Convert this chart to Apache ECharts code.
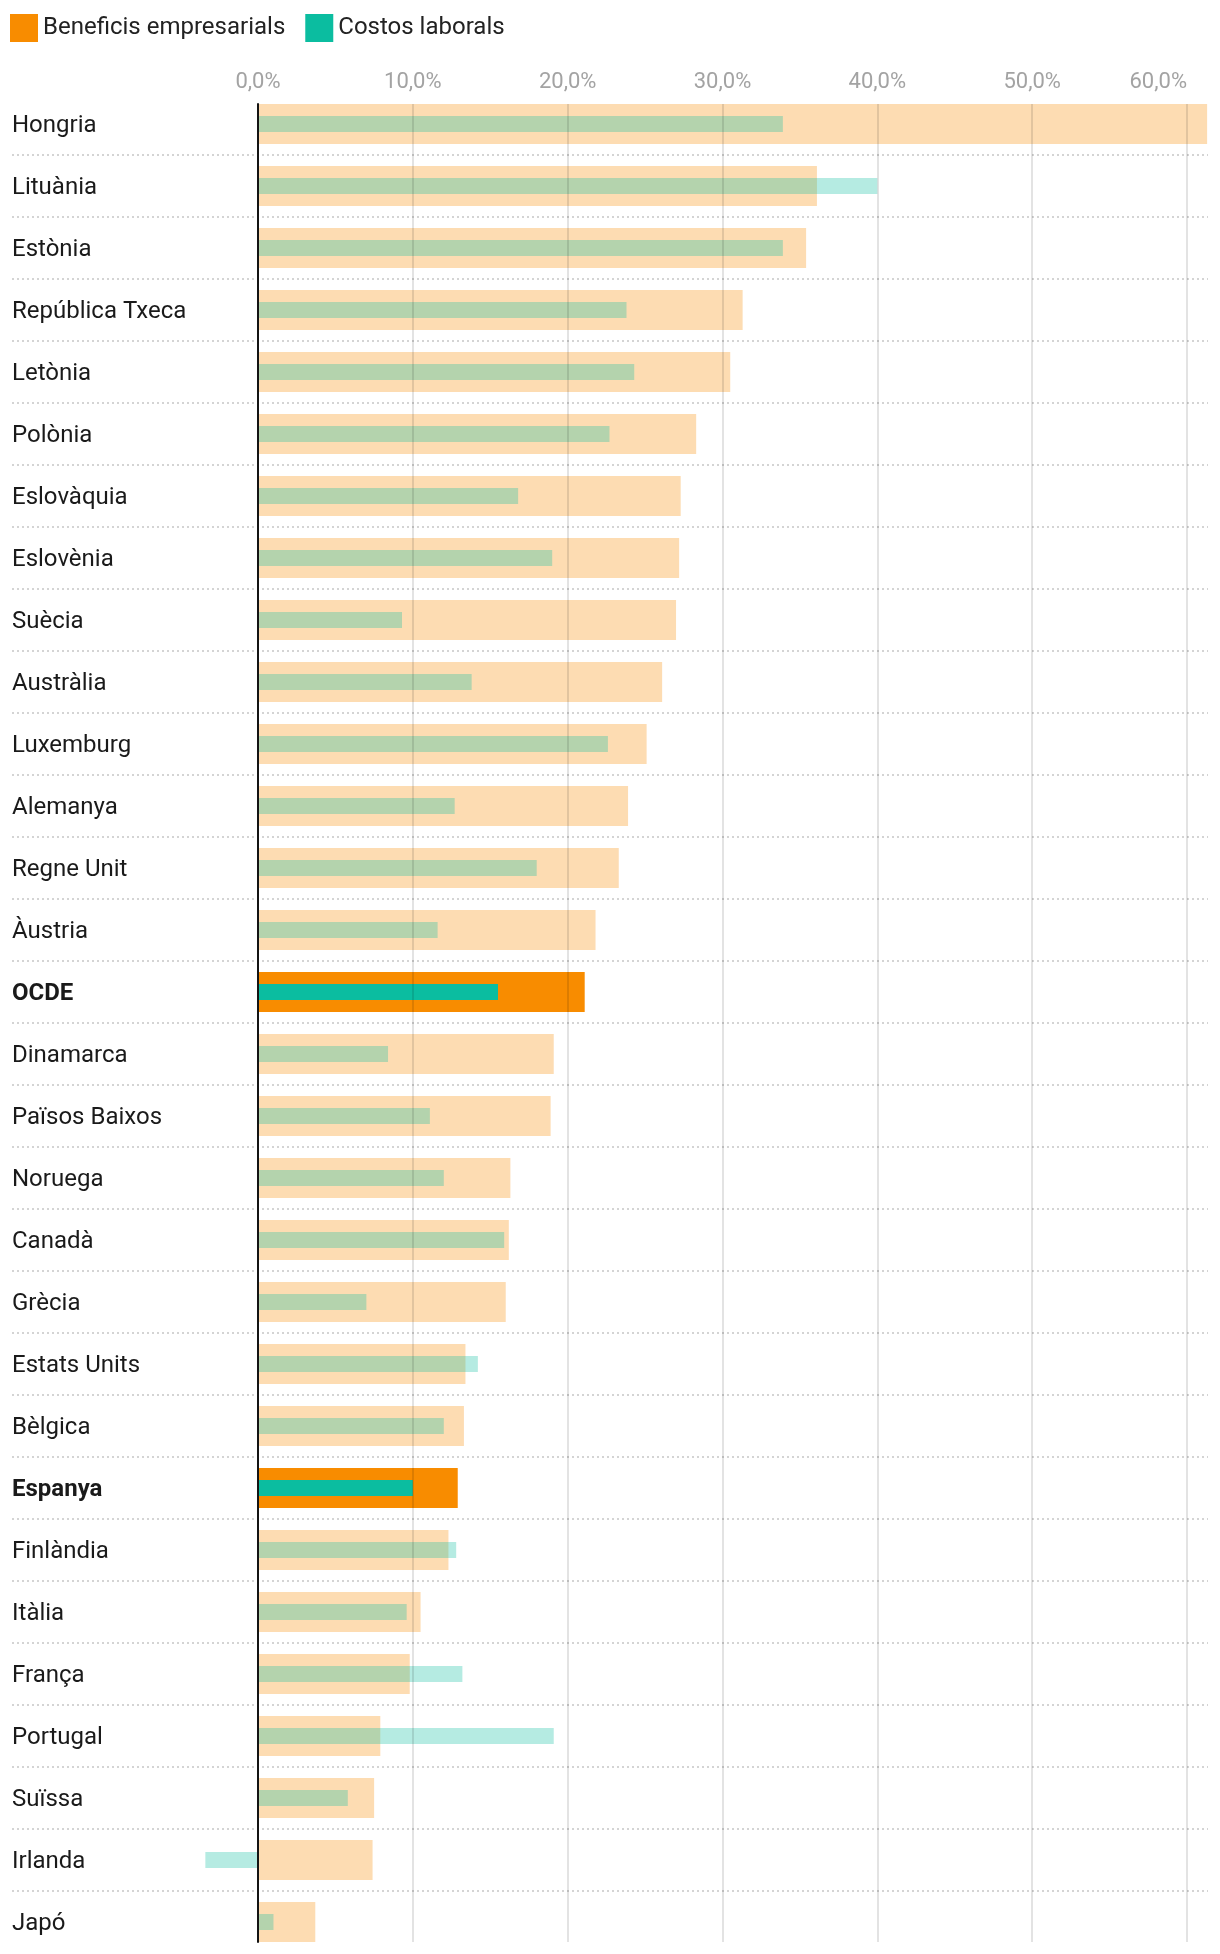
<!DOCTYPE html>
<html>
<head>
<meta charset="utf-8">
<script src="https://cdn.jsdelivr.net/npm/echarts@6/dist/echarts.min.js"></script>
<style>
html,body{margin:0;padding:0;background:#fff;}
#chart{width:1220px;height:1954px;}
</style>
</head>
<body>
<div id="chart"></div>
<script>
// ---- data ----
const countries = ['Hongria','Lituània','Estònia','República Txeca','Letònia','Polònia','Eslovàquia','Eslovènia','Suècia','Austràlia','Luxemburg','Alemanya','Regne Unit','Àustria','OCDE','Dinamarca','Països Baixos','Noruega','Canadà','Grècia','Estats Units','Bèlgica','Espanya','Finlàndia','Itàlia','França','Portugal','Suïssa','Irlanda','Japó'];
const benefits = [61.3,36.1,35.4,31.3,30.5,28.3,27.3,27.2,27.0,26.1,25.1,23.9,23.3,21.8,21.1,19.1,18.9,16.3,16.2,16.0,13.4,13.3,12.9,12.3,10.5,9.8,7.9,7.5,7.4,3.7];
const costs = [33.9,40.0,33.9,23.8,24.3,22.7,16.8,19.0,9.3,13.8,22.6,12.7,18.0,11.6,15.5,8.4,11.1,12.0,15.9,7.0,14.2,12.0,10.0,12.8,9.6,13.2,19.1,5.8,-3.4,1.0];
const highlighted = ['OCDE','Espanya'];
const seriesNames = ['Beneficis empresarials','Costos laborals'];
const tickStep = 10;
const tickMax = 60;

// ---- layout ----
const W = 1220;
const labelLeft = 12, zeroX = 258, rightPad = 12;
const tick60X = 1187;
const plotTop = 93, plotBottom = 1;
const tickTop = 104, tickBottom = 12;
const pxPerUnit = (tick60X - zeroX) / tickMax;
const xMinData = -(zeroX - labelLeft) / pxPerUnit;
const xMaxData = (W - rightPad - zeroX) / pxPerUnit;

const ORANGE = '#F88C00', TEAL = '#0BBDA0';
const fade = 0.3;

function items(vals, color) {
  return vals.map((v, i) => ({
    value: v,
    itemStyle: { color: color, opacity: highlighted.includes(countries[i]) ? 1 : fade }
  }));
}

const chart = echarts.init(document.getElementById('chart'), null, {renderer: 'canvas'});
chart.setOption({
  animation: false,
  textStyle: { fontFamily: 'Roboto' },
  legend: {
    left: 10, top: 14, padding: 0,
    itemWidth: 28, itemHeight: 28, itemGap: 20,
    icon: 'rect',
    textStyle: { fontSize: 24, color: '#222', fontFamily: 'Roboto' },
    data: seriesNames
  },
  grid: [
    { left: zeroX, right: W - tick60X, top: tickTop, bottom: tickBottom, containLabel: false },
    { left: labelLeft, right: rightPad, top: plotTop, bottom: plotBottom, containLabel: false }
  ],
  xAxis: [
    {
      gridIndex: 0, type: 'value', min: 0, max: tickMax, interval: tickStep,
      position: 'top', z: 5,
      axisLine: { show: false }, axisTick: { show: false },
      axisLabel: {
        margin: 11, alignMaxLabel: 'right',
        fontSize: 22, color: '#a3a3a3', fontFamily: 'Roboto',
        formatter: v => v.toFixed(1).replace('.', ',') + '%'
      },
      splitLine: { show: true, showMinLine: false, showMaxLine: true,
        lineStyle: { color: 'rgba(0,0,0,0.11)', width: 2 } }
    },
    {
      gridIndex: 1, type: 'value', min: xMinData, max: xMaxData,
      show: false
    }
  ],
  yAxis: [
    {
      gridIndex: 0, type: 'value', min: 0, max: 1, z: 6,
      axisLine: { show: true, lineStyle: { color: '#141414', width: 2 } },
      axisTick: { show: false }, axisLabel: { show: false }, splitLine: { show: false }
    },
    {
      gridIndex: 1, type: 'category', data: countries, inverse: true,
      axisLine: { show: false }, axisTick: { show: false },
      axisLabel: {
        inside: true, margin: 0, fontSize: 24, color: '#1a1a1a',
        padding: [3, 0, 0, 0],
        formatter: v => highlighted.includes(v) ? '{b|' + v + '}' : '{n|' + v + '}',
        rich: {
          b: { fontWeight: 'bold', fontSize: 24, color: '#1a1a1a', fontFamily: 'Roboto' },
          n: { fontSize: 24, color: '#1a1a1a', fontFamily: 'Roboto' }
        }
      },
      splitLine: { show: true, showMinLine: false, showMaxLine: false,
        lineStyle: { color: '#d4d4d4', width: 2, type: [2, 3] } }
    },
    {
      gridIndex: 1, type: 'category', data: countries, inverse: true, show: false
    }
  ],
  series: [
    {
      name: seriesNames[0], type: 'bar', xAxisIndex: 1, yAxisIndex: 1,
      barWidth: 40, color: ORANGE,
      data: items(benefits, ORANGE)
    },
    {
      name: seriesNames[1], type: 'bar', xAxisIndex: 1, yAxisIndex: 2,
      barWidth: 16, color: TEAL,
      data: items(costs, TEAL)
    }
  ]
});
</script>
</body>
</html>
